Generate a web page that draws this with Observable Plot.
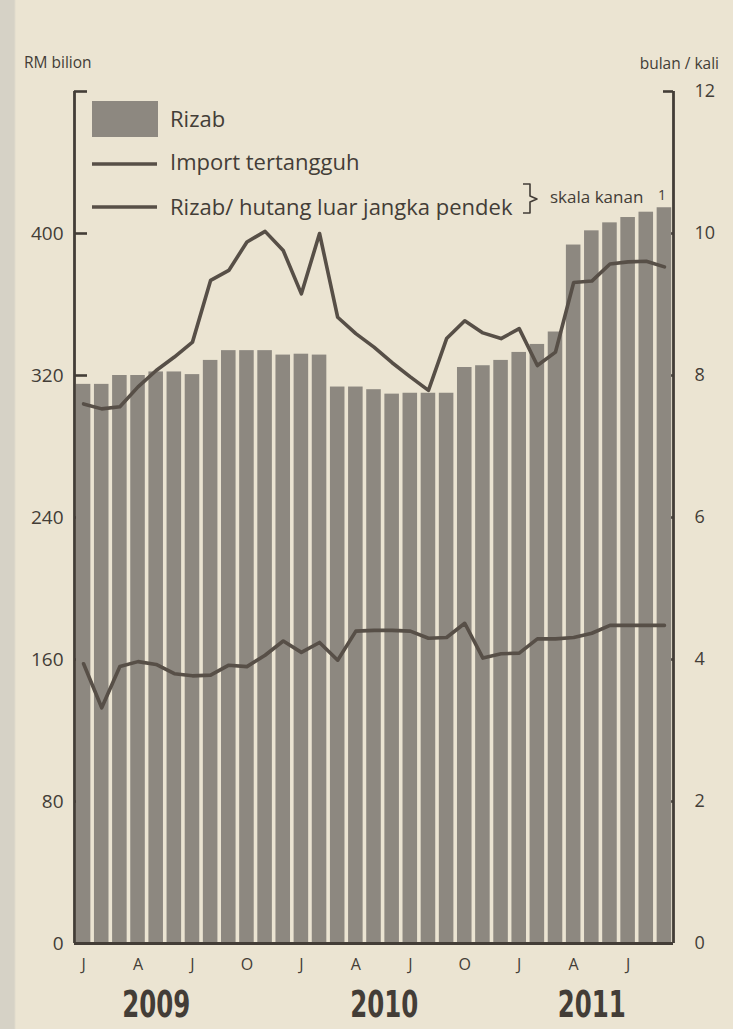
<!DOCTYPE html>
<html>
<head>
<meta charset="utf-8">
<script src="https://cdn.jsdelivr.net/npm/d3@7"></script>
<script src="https://cdn.jsdelivr.net/npm/@observablehq/plot@0.6"></script>
<style>
  html, body { margin: 0; padding: 0; }
  body { width: 733px; height: 1029px; overflow: hidden; background: #ebe4d2; font-family: "Open Sans", sans-serif; }
  #wrap { position: relative; width: 733px; height: 1029px;
    background: linear-gradient(to right, #d6d2c6 0px, #d6d2c6 14px, #ebe4d2 16px, #ebe4d2 100%); }
  #chart svg { display: block; }
  #overlay { position: absolute; left: 0; top: 0; pointer-events: none; }
  #overlay text { font-family: "Open Sans", sans-serif; fill: #433d37; }
</style>
</head>
<body>
<div id="wrap">
  <div id="chart"></div>
  <svg id="overlay" width="733" height="1029"></svg>
</div>
<script>
// ---- data ----
const months = [
  "2009-01","2009-02","2009-03","2009-04","2009-05","2009-06","2009-07","2009-08","2009-09","2009-10","2009-11","2009-12",
  "2010-01","2010-02","2010-03","2010-04","2010-05","2010-06","2010-07","2010-08","2010-09","2010-10","2010-11","2010-12",
  "2011-01","2011-02","2011-03","2011-04","2011-05","2011-06","2011-07","2011-08","2011-09"
];
// Rizab, RM bilion (left scale)
const rizab = [315, 315, 320, 320, 322, 322, 320.5, 328.5, 334, 334, 334, 331.5,
  332, 331.5, 313.5, 313.5, 312, 309.5, 310, 310, 310, 324.5, 325.5, 328.5,
  333, 337.5, 344.5, 393.5, 401.5, 406, 409, 412, 414.5];
// Import tertangguh, bulan (right scale)
const importTertangguh = [7.60, 7.53, 7.56, 7.84, 8.07, 8.26, 8.47, 9.34, 9.48, 9.88, 10.03, 9.76,
  9.15, 10.00, 8.82, 8.59, 8.40, 8.18, 7.98, 7.79, 8.52, 8.77, 8.60, 8.52,
  8.66, 8.14, 8.33, 9.31, 9.33, 9.57, 9.60, 9.61, 9.53];
// Rizab / hutang luar jangka pendek, kali (right scale)
const rizabHutang = [3.94, 3.32, 3.90, 3.97, 3.93, 3.80, 3.77, 3.78, 3.92, 3.90, 4.06, 4.26,
  4.10, 4.24, 3.99, 4.40, 4.41, 4.41, 4.40, 4.30, 4.31, 4.51, 4.02, 4.08,
  4.09, 4.29, 4.29, 4.31, 4.37, 4.48, 4.48, 4.48, 4.48];

const leftTicks = [0, 80, 160, 240, 320, 400];
const leftMax = 480;
const rightTicks = [0, 2, 4, 6, 8, 10, 12];
const rightMax = 12;
const monthTickMonths = ["2009-01","2009-04","2009-07","2009-10","2010-01","2010-04","2010-07","2010-10","2011-01","2011-04","2011-07"];
const monthTickLabels = ["J","A","J","O","J","A","J","O","J","A","J"];
const yearLabels = ["2009", "2010", "2011"];
const yearAnchorMonths = ["2009-05", "2010-06", "2011-05"];

// ---- styling ----
const ink = "#433d37";
const barColor = "#8d8880";
const lineColor = "#574f47";
const W = 733, H = 1029;
const mL = 74, mR = 60, mT = 91, mB = 86;
const frameW = W - mL - mR;
const k = leftMax / rightMax;

const data = months.map((m, i) => ({m, i, rizab: rizab[i], imp: importTertangguh[i], debt: rizabHutang[i]}));
const years = yearLabels.map((label, j) => ({label, m: yearAnchorMonths[j]}));

const chart = Plot.plot({
  width: W, height: H,
  marginTop: mT, marginBottom: mB, marginLeft: mL, marginRight: mR,
  style: {background: "transparent", fontFamily: "'Open Sans', sans-serif", color: ink, overflow: "visible"},
  x: {type: "linear", domain: [0, months.length]},
  y: {domain: [0, leftMax]},
  marks: [
    // inward tick marks (under bars)
    Plot.ruleY([...leftTicks, leftMax], {y: d => d, stroke: ink, strokeWidth: 2.6, insetRight: frameW - 13}),
    Plot.ruleY(rightTicks.map(v => v * k), {y: d => d, stroke: ink, strokeWidth: 2.6, insetLeft: frameW - 10}),
    // bars
    Plot.rectY(data, {x1: d => d.i, x2: d => d.i + 1, y: "rizab", fill: barColor, insetLeft: 1.8, insetRight: 1.8}),
    // axis lines
    Plot.ruleX([0, months.length], {x: d => d, stroke: ink, strokeWidth: 2.8}),
    Plot.ruleY([0], {stroke: ink, strokeWidth: 2.8}),
    // lines (right scale)
    Plot.line(data, {x: d => d.i + 0.5, y: d => d.imp * k, stroke: lineColor, strokeWidth: 3.6}),
    Plot.line(data, {x: d => d.i + 0.5, y: d => d.debt * k, stroke: lineColor, strokeWidth: 3.6}),
    // axes
    Plot.axisY({anchor: "left", ticks: leftTicks, tickSize: 0, tickPadding: 11, fontSize: 19, label: null, fill: ink}),
    Plot.axisY({anchor: "right", ticks: rightTicks.map(v => v * k), tickFormat: d => String(Math.round(d / k)),
      tickSize: 0, tickPadding: 21, fontSize: 18, label: null, fill: ink}),
    Plot.axisX({ticks: monthTickMonths.map(m => months.indexOf(m) + 0.5),
      tickFormat: d => monthTickLabels[monthTickMonths.indexOf(months[Math.round(d - 0.5)])],
      tickSize: 0, tickPadding: 15, fontSize: 16, label: null, fill: ink}),
    // year labels
    Plot.text(years, {x: d => months.indexOf(d.m) + 0.5, y: d => 0, text: "label", dy: 62,
      fontSize: 37, fontWeight: "bold", fontFamily: "'DejaVu Sans Condensed', sans-serif",
      fill: ink, lineAnchor: "middle", ariaLabel: d => "year " + d.label})
  ]
});
document.getElementById("chart").appendChild(chart);
// condense the year labels to match the narrow bold face of the original
d3.select(chart).selectAll('text[aria-label^="year "]')
  .attr("textLength", 68).attr("lengthAdjust", "spacingAndGlyphs");
d3.select(chart).selectAll('text[aria-label="year 2010"]')
  .attr("transform", function() { return (this.getAttribute("transform") || "") + " translate(-8,0)"; });

// ---- legend & axis titles overlay ----
const ov = d3.select("#overlay");
ov.append("text").attr("x", 24).attr("y", 68).attr("font-size", 15.5).text("RM bilion");
ov.append("text").attr("x", 719).attr("y", 69).attr("font-size", 15.5).attr("text-anchor", "end").text("bulan / kali");
ov.append("rect").attr("x", 92).attr("y", 101).attr("width", 66).attr("height", 36).attr("fill", barColor);
ov.append("text").attr("x", 170).attr("y", 127).attr("font-size", 22).text("Rizab");
ov.append("line").attr("x1", 92).attr("x2", 157).attr("y1", 164).attr("y2", 164).attr("stroke", lineColor).attr("stroke-width", 3.6);
ov.append("text").attr("x", 170).attr("y", 170).attr("font-size", 22).text("Import tertangguh");
ov.append("line").attr("x1", 92).attr("x2", 157).attr("y1", 207).attr("y2", 207).attr("stroke", lineColor).attr("stroke-width", 3.6);
ov.append("text").attr("x", 170).attr("y", 215).attr("font-size", 22).text("Rizab/ hutang luar jangka pendek");
ov.append("path").attr("d", "M523,184 L530,184 L530,196 L537,199 L530,202 L530,213 L523,213")
  .attr("fill", "none").attr("stroke", ink).attr("stroke-width", 1.6).attr("stroke-linejoin", "round");
ov.append("text").attr("x", 550).attr("y", 203).attr("font-size", 17).text("skala kanan");
ov.append("text").attr("x", 662).attr("y", 200).attr("font-size", 14).attr("text-anchor", "middle").text("1");
</script>
</body>
</html>
